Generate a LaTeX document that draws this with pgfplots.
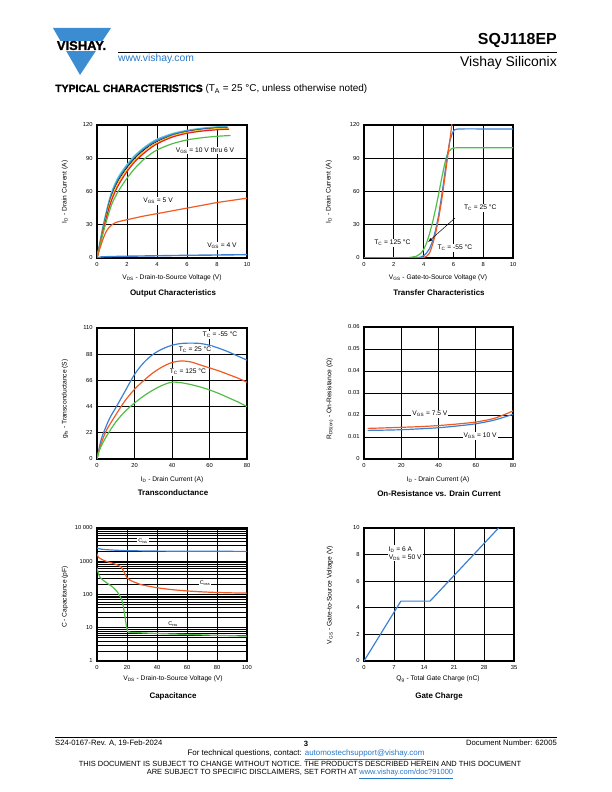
\documentclass[border=0pt]{standalone}
\usepackage{fontspec}
\setmainfont{Liberation Sans}
\newfontfamily\heavyfont{Liberation Sans}[FakeBold=1.2]
\usepackage{pgfplots}
\pgfplotsset{compat=1.18}
\definecolor{cblue}{RGB}{58,128,212}
\definecolor{corange}{RGB}{240,90,35}
\definecolor{cgreen}{RGB}{80,190,70}
\definecolor{ccyan}{RGB}{90,195,215}
\definecolor{cred}{RGB}{230,30,35}
\definecolor{cyellow}{RGB}{245,200,40}
\definecolor{vblue}{RGB}{60,140,210}
\definecolor{lblue}{RGB}{40,120,200}
\newcommand{\tf}{\fontsize{5.8}{6.5}\selectfont}
\newcommand{\lf}{\fontsize{6.7}{8}\selectfont}
\newcommand{\ttlf}{\fontsize{8}{9}\selectfont\bfseries}
\pgfplotsset{ds/.style={scale only axis, anchor=north west,
  axis line style={line width=1.1pt}, grid=major,
  major grid style={line width=0.8pt, black},
  major tick length=0pt, minor tick length=0pt,
  ticklabel style={font=\tf}, /pgf/number format/assume math mode=true,
  xticklabel style={yshift=-1pt}, yticklabel style={xshift=-1pt},
  scaled ticks=false,
  every axis plot/.append style={line width=1.2pt, mark=none, line join=round}}}
\begin{document}
\begin{tikzpicture}[x=1bp,y=1bp]
\path[use as bounding box] (0,0) rectangle (612,792);
% ---------- header ----------
\fill[vblue] (53,764) -- (111,764) -- (80,717) -- cycle;
\fill[white] (50,741) rectangle (114,751);
\node[anchor=base, font=\fontsize{13}{14}\selectfont\heavyfont\bfseries, inner sep=0] at (81.5,742) {VISHAY.};
\draw[line width=0.9pt] (118,740) -- (557,740);
\node[anchor=base east, font=\fontsize{16}{17}\selectfont\bfseries, inner sep=0] at (557,747) {SQJ118EP};
\node[anchor=base east, font=\fontsize{14}{15}\selectfont, inner sep=0] at (557,725) {Vishay Siliconix};
\node[anchor=base west, font=\fontsize{10.4}{12}\selectfont, text=lblue, inner sep=0] at (118,730) {www.vishay.com};
\node[anchor=base west, inner sep=0] at (55,700) {{\fontsize{10.5}{12}\selectfont\heavyfont\bfseries TYPICAL CHARACTERISTICS} {\fontsize{10}{11}\selectfont (T\textsubscript{A} = 25 °C, unless otherwise noted)}};
% ---------- footer ----------
\draw[line width=0.8pt] (55,55) -- (557,55);
\node[anchor=base west, font=\fontsize{7.7}{9}\selectfont, inner sep=0] at (55,46) {S24-0167-Rev. A, 19-Feb-2024};
\node[anchor=base, font=\fontsize{7.7}{9}\selectfont\bfseries, inner sep=0] at (306,45) {3};
\node[anchor=base east, font=\fontsize{7.7}{9}\selectfont, inner sep=0] at (557,46) {Document Number: 62005};
\node[anchor=base, font=\fontsize{8}{9}\selectfont, inner sep=0] at (306,36) {For technical questions, contact: \textcolor{lblue}{\underline{automostechsupport@vishay.com}}};
\node[anchor=base, font=\fontsize{7.5}{9}\selectfont, inner sep=0] at (300,25) {THIS DOCUMENT IS SUBJECT TO CHANGE WITHOUT NOTICE. THE PRODUCTS DESCRIBED HEREIN AND THIS DOCUMENT};
\node[anchor=base, font=\fontsize{7.5}{9}\selectfont, inner sep=0] at (300,17) {ARE SUBJECT TO SPECIFIC DISCLAIMERS, SET FORTH AT \textcolor{lblue}{\underline{www.vishay.com/doc?91000}}};

% ---------- Output characteristics ----------
\begin{axis}[ds, at={(97bp,667bp)}, width=150bp, height=133bp,
  xmin=0, xmax=10, ymin=0, ymax=120, xtick={0,2,...,10}, ytick={0,30,...,120}]
\addplot[ccyan, line width=1.6pt, smooth] coordinates {(0,0)(0.2,14)(0.4,28)(0.6,40)(0.8,51)(1.0,60)(1.25,68)(1.5,74.5)(2,84)(2.5,92)(3,98)(3.5,103)(4,107)(5,112)(6,115)(7,117)(8,118.2)(8.7,118.6)};
\addplot[cblue, smooth] coordinates {(0,0)(0.2,13.5)(0.4,27)(0.6,39)(0.8,50)(1.0,58.5)(1.25,66.5)(1.5,73)(2,82.5)(2.5,90.5)(3,97)(3.5,102)(4,106)(5,111.3)(6,114.5)(7,116.5)(8,117.6)(8.7,118)};
\addplot[black, line width=0.6pt, smooth] coordinates {(0,0)(0.2,13)(0.4,26)(0.6,38)(0.8,48.5)(1.0,57)(1.25,65)(1.5,71.5)(2,81.5)(2.5,89.5)(3,96)(3.5,101)(4,105)(5,110.5)(6,114)(7,116)(8,117.2)(8.7,117.6)};
\addplot[cyellow, smooth] coordinates {(0,0)(0.2,12.5)(0.4,25)(0.6,36.5)(0.8,47)(1.0,55.5)(1.25,63.5)(1.5,70)(2,80)(2.5,88)(3,94.5)(3.5,100)(4,104)(5,110)(6,113.5)(7,115.5)(8,116.7)(8.8,117.2)};
\addplot[cred, smooth] coordinates {(0,0)(0.2,12)(0.4,24)(0.6,35)(0.8,45)(1,53)(1.25,61)(1.5,67.5)(2,78)(2.5,86.5)(3,93)(3.5,98.5)(4,103)(5,109)(6,112.5)(7,114.5)(8,115.7)(8.8,116.2)};
\addplot[cgreen, smooth] coordinates {(0,0)(0.2,11)(0.4,22)(0.6,32)(0.8,41)(1,49)(1.25,56)(1.5,62)(2,72)(2.5,80.5)(3,87.5)(3.5,93)(4,97.5)(5,103)(6,106.5)(7,108.5)(8,109.8)(8.9,110.5)};
\addplot[corange, smooth] coordinates {(0,0)(0.2,9)(0.4,17)(0.6,23.5)(0.8,27.5)(1,30)(1.25,32)(1.5,33)(2,34.5)(3,37.5)(4,40)(5,42.5)(6,45)(7,47.5)(8,50)(9,52)(10,54)};
\addplot[cblue, line width=1.4pt] coordinates {(0,0)(0.3,1)(1,1.3)(2,1.6)(4,2)(6,2.4)(8,2.7)(10,3)};
\node[fill=white, inner sep=1pt, font=\lf] at (axis cs:7.2,97) {V\textsubscript{GS} = 10 V thru 6 V};
\node[fill=white, inner sep=1pt, font=\lf] at (axis cs:4.07,51.4) {V\textsubscript{GS} = 5 V};
\node[fill=white, inner sep=1pt, font=\lf] at (axis cs:8.33,10.8) {V\textsubscript{GS} = 4 V};
\end{axis}
\node[font=\lf, rotate=90] at (65,600) {I\textsubscript{D} - Drain Current (A)};
\node[font=\lf] at (172,514) {V\textsubscript{DS} - Drain-to-Source Voltage (V)};
\node[font=\ttlf] at (173,499) {Output Characteristics};

% ---------- Transfer characteristics ----------
\begin{axis}[ds, at={(364bp,667bp)}, width=149bp, height=133bp,
  xmin=0, xmax=10, ymin=0, ymax=120, xtick={0,2,...,10}, ytick={0,30,...,120}]
\addplot[cgreen] coordinates {(0,0)(3,0.3)(3.5,1.5)(3.8,4)(4,7.5)(4.2,13.5)(4.4,22)(4.6,32)(4.8,44)(5,57)(5.2,71)(5.4,84)(5.55,92)(5.7,96.3)(5.85,98.3)(6,99.2)(6.3,99.5)(10,99.5)};
\addplot[cblue] coordinates {(0,0)(3.5,0.2)(3.8,0.8)(4,2)(4.2,4.5)(4.4,8.5)(4.6,15)(4.8,25)(5,38)(5.2,55)(5.4,74)(5.6,93)(5.75,105)(5.9,111.5)(6.0,114.5)(6.1,115.8)(6.3,116.4)(7,116.5)(10,116.3)};
\addplot[corange] coordinates {(0,0)(3.8,0)(4,0.5)(4.2,1.5)(4.4,4.5)(4.5,8)(4.6,12)(4.8,22)(5,35)(5.2,51)(5.4,70)(5.6,90)(5.8,110)(5.9,121)};
\node[fill=white, inner sep=1pt, font=\lf] at (axis cs:7.8,45) {T\textsubscript{C} = 25 °C};
\node[fill=white, inner sep=1pt, font=\lf] at (axis cs:1.9,13.5) {T\textsubscript{C} = 125 °C};
\node[fill=white, inner sep=1pt, font=\lf] at (axis cs:6.1,9) {T\textsubscript{C} = -55 °C};
\draw[-latex, line width=0.5pt] (axis cs:6.1,36) -- (axis cs:4.3,14.4);
\end{axis}
\node[font=\lf, rotate=90] at (329,600) {I\textsubscript{D} - Drain Current (A)};
\node[font=\lf] at (438,514) {V\textsubscript{GS} - Gate-to-Source Voltage (V)};
\node[font=\ttlf] at (439,499) {Transfer Characteristics};

% ---------- Transconductance ----------
\begin{axis}[ds, at={(97bp,464bp)}, width=150bp, height=131bp,
  xmin=0, xmax=80, ymin=0, ymax=110, xtick={0,20,...,80}, ytick={0,22,...,110}]
\addplot[cblue, smooth] coordinates {(0,0)(1,8)(2,15)(3,20)(5,28)(7,35)(10,43)(15,57)(20,71)(25,81)(30,88)(35,92.5)(40,95.5)(45,97)(50,97.3)(55,97)(60,95.5)(65,93)(70,90)(75,86.5)(80,83)};
\addplot[corange, smooth] coordinates {(0,0)(1,7)(2,12)(5,24)(10,37)(15,49)(20,58.5)(25,66)(30,72.5)(35,77.5)(40,81)(45,82.3)(50,81.5)(55,79)(60,76.5)(65,74)(70,71)(75,68)(80,64.5)};
\addplot[cgreen, smooth] coordinates {(0,0)(1,6)(2,10)(5,19)(10,31)(15,40)(20,47)(25,53)(30,58)(35,62)(40,64.5)(45,64)(50,62.5)(55,60.5)(60,58)(65,55)(70,51.5)(75,48)(80,44)};
\node[fill=white, inner sep=1pt, font=\lf] at (axis cs:65.6,104) {T\textsubscript{C} = -55 °C};
\node[fill=white, inner sep=1pt, font=\lf] at (axis cs:52.3,91.5) {T\textsubscript{C} = 25 °C};
\node[fill=white, inner sep=1pt, font=\lf] at (axis cs:48.5,73) {T\textsubscript{C} = 125 °C};
\end{axis}
\node[font=\lf, rotate=90] at (65,393) {g\textsubscript{fs} - Transconductance (S)};
\node[font=\lf] at (172,312) {I\textsubscript{D} - Drain Current (A)};
\node[font=\ttlf] at (173,299) {Transconductance};

% ---------- On-resistance ----------
\begin{axis}[ds, at={(364bp,465bp)}, width=149bp, height=132bp,
  xmin=0, xmax=80, ymin=0, ymax=0.06, xtick={0,20,...,80}, ytick={0,0.01,0.02,0.03,0.04,0.05,0.06},
  yticklabels={0,0.01,0.02,0.03,0.04,0.05,0.06}]
\addplot[corange, smooth] coordinates {(2,0.0139)(10,0.0141)(20,0.0144)(30,0.0147)(40,0.0152)(50,0.0159)(60,0.0168)(70,0.0185)(80,0.0218)};
\addplot[cblue, smooth] coordinates {(2,0.0130)(10,0.0131)(20,0.0133)(30,0.0137)(40,0.0142)(50,0.0150)(60,0.0160)(70,0.0177)(80,0.0203)};
\node[fill=white, inner sep=1pt, font=\lf] at (axis cs:35.4,0.0205) {V\textsubscript{GS} = 7.5 V};
\node[fill=white, inner sep=1pt, font=\lf] at (axis cs:62.3,0.0105) {V\textsubscript{GS} = 10 V};
\end{axis}
\node[font=\lf, rotate=90] at (330,393) {R\textsubscript{DS(on)} - On-Resistance (Ω)};
\node[font=\lf] at (438,312) {I\textsubscript{D} - Drain Current (A)};
\node[font=\ttlf] at (439,298) {On-Resistance vs. Drain Current};

% ---------- Capacitance ----------
\begin{axis}[ds, at={(97bp,264bp)}, width=150bp, height=133bp, ymode=log,
  xmin=0, xmax=100, ymin=1, ymax=10000, xtick={0,20,...,100},
  ytick={1,10,100,1000,10000}, yticklabels={1,10,100,1000,10 000},
  minor grid style={line width=0.6pt, black}, yminorgrids=true]
\addplot[cblue, smooth] coordinates {(0,2500)(3,2300)(8,2200)(15,2120)(20,2080)(40,2020)(60,2000)(80,1990)(100,1980)};
\addplot[corange, smooth] coordinates {(0,1700)(1,1300)(3,1150)(6,1000)(10,880)(14,760)(16,680)(18,480)(20,320)(22,270)(26,225)(30,195)(40,160)(50,140)(60,128)(70,120)(80,115)(90,112)(100,110)};
\addplot[cgreen] coordinates {(0,620)(1,420)(2,330)(4,270)(7,215)(10,175)(13,130)(15,95)(16.5,70)(17.5,45)(18.5,24)(19.5,12)(20.5,7.6)(22,7.3)(30,7.0)(40,6.7)(60,6.3)(80,5.9)(100,5.6)};
\node[fill=white, inner sep=1pt, font=\fontsize{5.5}{6}\selectfont] at (axis cs:30.7,4070) {C\textsubscript{iss}};
\node[fill=white, inner sep=1pt, font=\fontsize{5.5}{6}\selectfont] at (axis cs:72,222) {C\textsubscript{oss}};
\node[fill=white, inner sep=1pt, font=\fontsize{5.5}{6}\selectfont] at (axis cs:50.7,13) {C\textsubscript{rss}};
\end{axis}
\node[font=\lf, rotate=90] at (65,195) {C - Capacitance (pF)};
\node[font=\lf] at (173,113) {V\textsubscript{DS} - Drain-to-Source Voltage (V)};
\node[font=\ttlf] at (173,96) {Capacitance};

% ---------- Gate charge ----------
\begin{axis}[ds, at={(364bp,264bp)}, width=150bp, height=133bp,
  xmin=0, xmax=35, ymin=0, ymax=10, xtick={0,7,...,35}, ytick={0,2,...,10}]
\addplot[cblue] coordinates {(0,0)(8.6,4.5)(15.4,4.5)(31.4,10)};
\node[fill=white, inner sep=1pt, font=\lf, align=left] at (axis cs:9.6,8.1) {I\textsubscript{D} = 6 A\\V\textsubscript{DS} = 50 V};
\end{axis}
\node[font=\lf, rotate=90] at (330,197) {V\textsubscript{GS} - Gate-to-Source Voltage (V)};
\node[font=\lf] at (438,113) {Q\textsubscript{g} - Total Gate Charge (nC)};
\node[font=\ttlf] at (439,96) {Gate Charge};
\end{tikzpicture}
\end{document}
